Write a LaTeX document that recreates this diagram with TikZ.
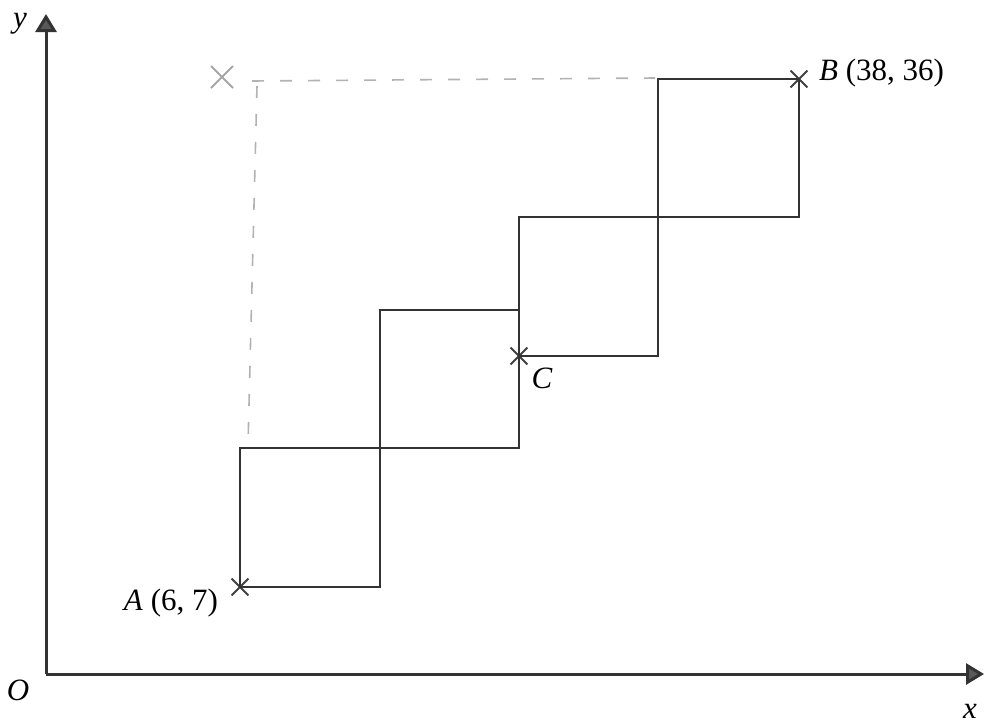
\documentclass[tikz,border=0pt]{standalone}
\usepackage{fontspec}
\setmainfont{Liberation Serif}
\usetikzlibrary{arrows.meta,shapes.misc}
\begin{document}
\begin{tikzpicture}[x=0.5pt, y=-0.5pt, font=\fontsize{15.5}{18}\selectfont,
  crossmark/.style={cross out, draw=black!75, line width=0.9pt, minimum size=7.5pt, inner sep=0pt},
  stair/.style={black!80, line width=0.9pt},
  axis/.style={black!80, line width=1.5pt, -{Triangle[length=9pt,width=10.5pt,fill=black!65]}},
  pencil/.style={black!30, dashed, dash pattern=on 6pt off 8pt, line width=0.8pt}]
  \useasboundingbox (0,0) rectangle (984,724);
  % axes
  \coordinate (O) at (46,674);
  \coordinate (xend) at (984,674);
  \coordinate (yend) at (46,14);
  \draw[axis] (O) -- (xend);
  \draw[axis] (O) -- (yend);
  \node (ylab) at (20,24) {\textit{y}};
  \node (olab) at (18,690) {\textit{O}};
  \node (xlab) at (970,711) {\textit{x}};
  % points
  \node[crossmark] (A) at (240,587) {};
  \node[crossmark] (C) at (519,356) {};
  \node[crossmark] (B) at (799,79) {};
  \node[anchor=east] (Alab) at (225,603) {\textit{A} (6, 7)};
  \node[anchor=west] (Blab) at (812,73) {\textit{B} (38, 36)};
  \node (Clab) at (542,378) {\textit{C}};
  % lower route
  \draw[stair] (A.center) -- (380,587) -- (380,310) -- (519,310) -- (C.center);
  \draw[stair] (C.center) -- (519,217) -- (799,217) -- (B.center);
  % upper route
  \draw[stair] (A.center) -- (240,448) -- (519,448) -- (C.center) -- (658,356) -- (658,79) -- (B.center);
  % pencil marks
  \node[cross out, draw=black!35, line width=1pt, minimum size=10pt, inner sep=0pt] (P) at (222,77) {};
  \draw[pencil] (252,81) -- (655,78);
  \draw[pencil] (257,86) -- (248,445);
\end{tikzpicture}
\end{document}
